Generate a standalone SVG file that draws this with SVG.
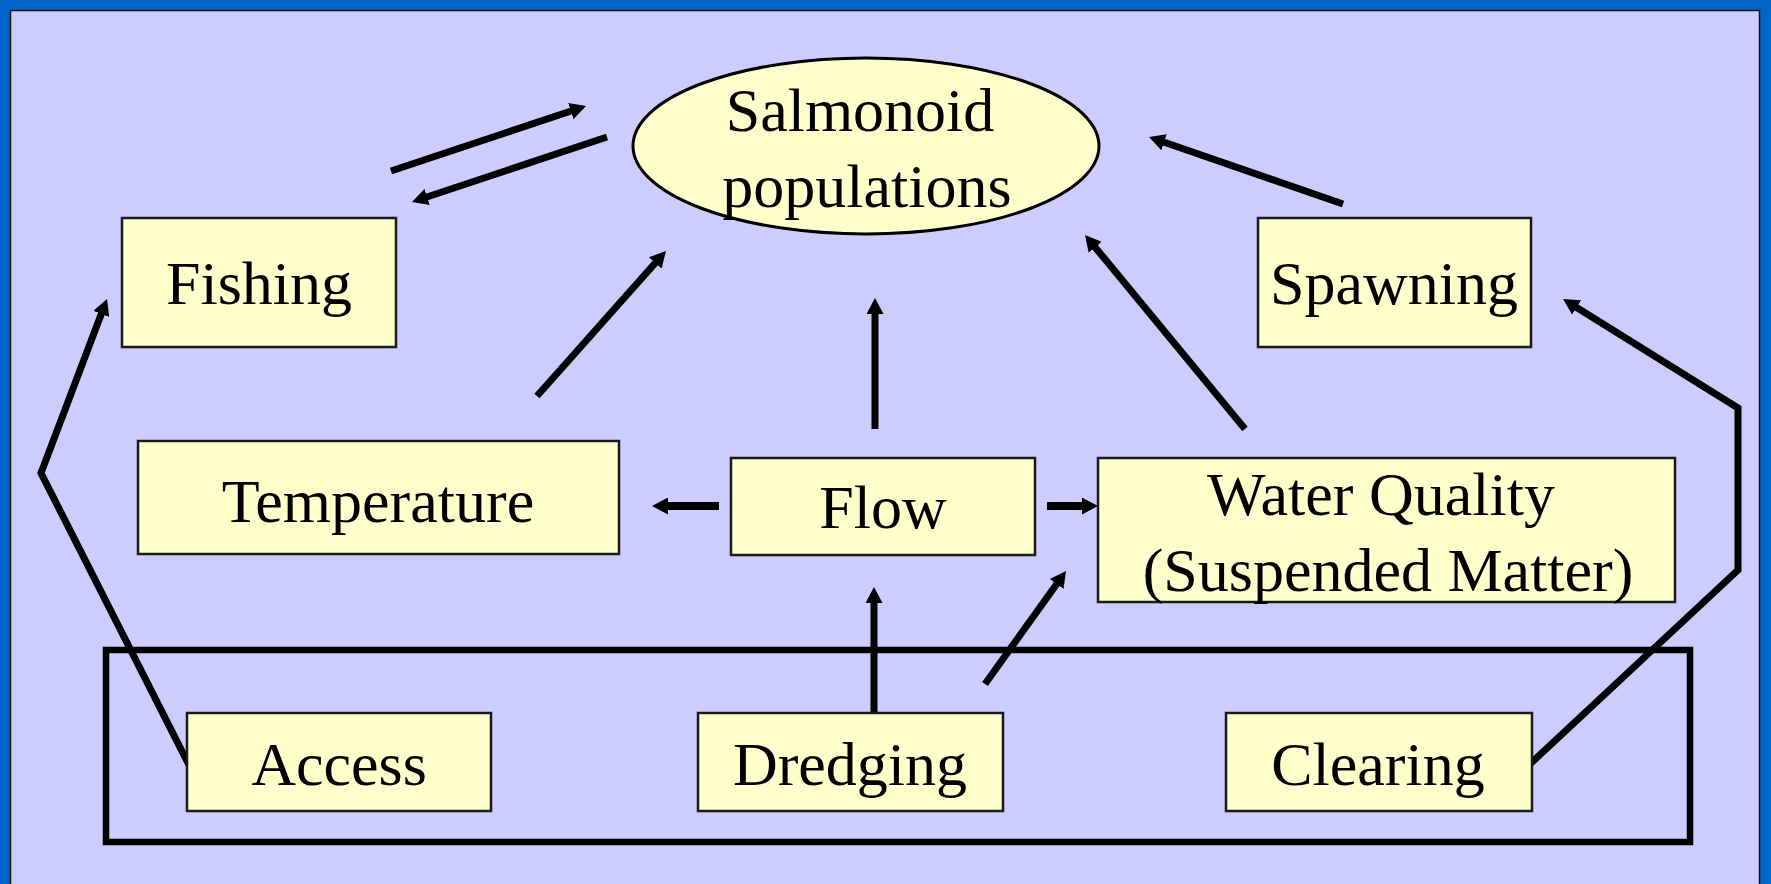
<svg xmlns="http://www.w3.org/2000/svg" width="1771" height="884" viewBox="0 0 1771 884">
<defs>
<style>
.box{fill:#FFFFCC;stroke:#1a1a1a;stroke-width:2.5}
.lbl{font-family:"Liberation Serif","Times New Roman",serif;font-size:62px;fill:#000;text-anchor:middle}
.ln{stroke:#000;stroke-width:7;fill:none;stroke-linecap:butt;stroke-linejoin:miter}
.thick{stroke-width:8}
</style>
<marker id="ah" viewBox="0 0 16 17" refX="9" refY="8.5" markerWidth="16" markerHeight="17" markerUnits="userSpaceOnUse" orient="auto">
<path d="M0,0 L16,8.5 L0,17 Z" fill="#000"/>
</marker>
</defs>
<rect x="0" y="0" width="1771" height="884" fill="#0066CC"/>
<rect x="10.5" y="10.5" width="1749" height="880" fill="#CCCCFF" stroke="#111" stroke-width="1.5"/>

<g id="group-box">
<rect x="106" y="650" width="1584" height="192" fill="none" stroke="#000" stroke-width="6.5"/>
</g>

<g id="connectors">
<line class="ln" x1="391" y1="171" x2="579.4" y2="108.2" marker-end="url(#ah)"/>
<line class="ln" x1="607" y1="137" x2="418.6" y2="199.8" marker-end="url(#ah)"/>
<line class="ln" x1="537" y1="396" x2="661.3" y2="256.2" marker-end="url(#ah)"/>
<line class="ln" x1="875" y1="429" x2="875" y2="305" marker-end="url(#ah)"/>
<line class="ln" x1="1245" y1="429" x2="1089.5" y2="240.4" marker-end="url(#ah)"/>
<line class="ln" x1="1343" y1="204" x2="1155.6" y2="139.3" marker-end="url(#ah)"/>
<line class="ln thick" x1="719" y1="506" x2="659" y2="506" marker-end="url(#ah)"/>
<line class="ln thick" x1="1047" y1="506" x2="1091" y2="506" marker-end="url(#ah)"/>
<line class="ln" x1="874" y1="717" x2="874" y2="594" marker-end="url(#ah)"/>
<line class="ln" x1="985" y1="684" x2="1061.9" y2="576.7" marker-end="url(#ah)"/>
<polyline class="ln" points="189,765 41,473 104.5,305.5" marker-end="url(#ah)"/>
<polyline class="ln" points="1530,764 1738,570 1738,408 1569,302.7" marker-end="url(#ah)"/>
</g>

<g id="salmonoid">
<ellipse cx="866" cy="146" rx="233" ry="88" fill="#FFFFCC" stroke="#000" stroke-width="3"/>
<text class="lbl" x="860" y="131">Salmonoid</text>
<text class="lbl" x="867" y="207">populations</text>
</g>
<g id="fishing">
<rect class="box" x="122" y="218" width="274" height="129"/>
<text class="lbl" x="259" y="304">Fishing</text>
</g>
<g id="spawning">
<rect class="box" x="1258" y="218" width="273" height="129"/>
<text class="lbl" x="1394" y="304">Spawning</text>
</g>
<g id="temperature">
<rect class="box" x="138" y="441" width="481" height="113"/>
<text class="lbl" x="378" y="522">Temperature</text>
</g>
<g id="flow">
<rect class="box" x="731" y="458" width="304" height="97"/>
<text class="lbl" x="883" y="528">Flow</text>
</g>
<g id="water-quality">
<rect class="box" x="1098" y="458" width="577" height="144"/>
<text class="lbl" x="1381" y="515">Water Quality</text>
<text class="lbl" x="1388" y="591">(Suspended Matter)</text>
</g>
<g id="access">
<rect class="box" x="187" y="713" width="304" height="98"/>
<text class="lbl" x="339" y="785">Access</text>
</g>
<g id="dredging">
<rect class="box" x="698" y="713" width="305" height="98"/>
<text class="lbl" x="850" y="785">Dredging</text>
</g>
<g id="clearing">
<rect class="box" x="1226" y="713" width="306" height="98"/>
<text class="lbl" x="1378" y="785">Clearing</text>
</g>
</svg>
